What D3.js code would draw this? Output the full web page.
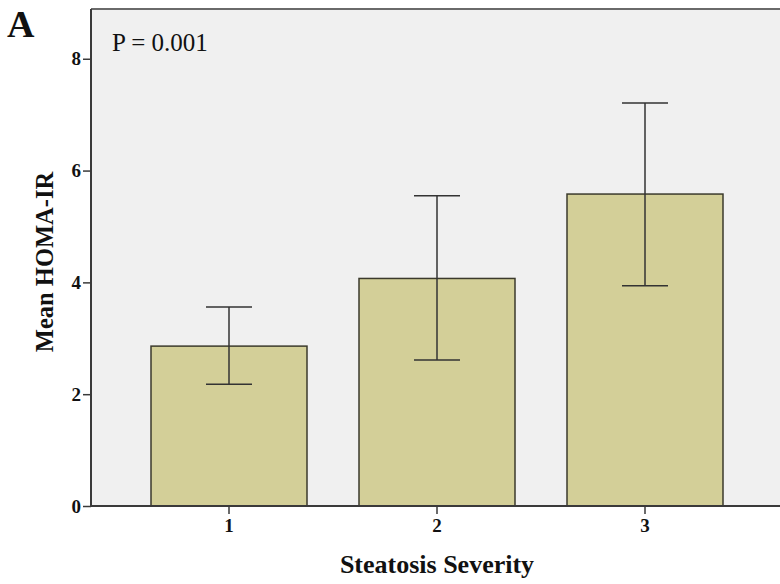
<!DOCTYPE html>
<html>
<head>
<meta charset="utf-8">
<script src="https://cdn.jsdelivr.net/npm/d3@7"></script>
<style>
  body { margin: 0; background: #fff; }
  svg { display: block; font-family: "Liberation Serif", "Times New Roman", serif; }
</style>
</head>
<body>
<script>
// données
const categories = ["1", "2", "3"];
const means = [2.86, 4.07, 5.58];
const lowerCI = [2.18, 2.61, 3.94];
const upperCI = [3.56, 5.55, 7.21];
const yTicks = [0, 2, 4, 6, 8];

const W = 780, H = 584;
const plot = { left: 91, right: 780, top: 9, bottom: 506 };

const svg = d3.select("body").append("svg")
  .attr("width", W)
  .attr("height", H);

const x = d3.scaleBand()
  .domain(categories)
  .range([125, 749])
  .paddingInner(0.25)
  .paddingOuter(0.125);

const y = d3.scaleLinear()
  .domain([0, 8.89])
  .range([plot.bottom, plot.top]);

// fond du graphique
svg.append("rect")
  .attr("x", plot.left)
  .attr("y", plot.top)
  .attr("width", plot.right - plot.left)
  .attr("height", plot.bottom - plot.top)
  .attr("fill", "#f0f0f0");

// bordure du haut
svg.append("line")
  .attr("x1", plot.left).attr("x2", plot.right)
  .attr("y1", plot.top).attr("y2", plot.top)
  .attr("stroke", "#6a6a6a")
  .attr("stroke-width", 2);

// barres
const data = categories.map((c, i) => ({ cat: c, mean: means[i], lo: lowerCI[i], hi: upperCI[i] }));

svg.selectAll(".bar")
  .data(data)
  .enter()
  .append("rect")
  .attr("class", "bar")
  .attr("x", d => x(d.cat))
  .attr("y", d => y(d.mean))
  .attr("width", x.bandwidth())
  .attr("height", d => y(0) - y(d.mean))
  .attr("fill", "#d3cf98")
  .attr("stroke", "#3b3a2c")
  .attr("stroke-width", 1.5);

// barres d'erreur
const cap = 23;
const err = svg.selectAll(".err")
  .data(data)
  .enter()
  .append("g")
  .attr("class", "err")
  .attr("stroke", "#333")
  .attr("stroke-width", 1.5);

err.append("line")
  .attr("x1", d => x(d.cat) + x.bandwidth() / 2)
  .attr("x2", d => x(d.cat) + x.bandwidth() / 2)
  .attr("y1", d => y(d.lo))
  .attr("y2", d => y(d.hi));
err.append("line")
  .attr("x1", d => x(d.cat) + x.bandwidth() / 2 - cap)
  .attr("x2", d => x(d.cat) + x.bandwidth() / 2 + cap)
  .attr("y1", d => y(d.hi))
  .attr("y2", d => y(d.hi));
err.append("line")
  .attr("x1", d => x(d.cat) + x.bandwidth() / 2 - cap)
  .attr("x2", d => x(d.cat) + x.bandwidth() / 2 + cap)
  .attr("y1", d => y(d.lo))
  .attr("y2", d => y(d.lo));

// axes
const yAxis = svg.append("g")
  .attr("transform", "translate(" + plot.left + ",0)")
  .call(d3.axisLeft(y).tickValues(yTicks).tickSize(8).tickPadding(2).tickSizeOuter(0));
yAxis.select(".domain").attr("d", "M0," + plot.top + "V" + plot.bottom);

const xAxis = svg.append("g")
  .attr("transform", "translate(0," + plot.bottom + ")")
  .call(d3.axisBottom(x).tickSize(8).tickPadding(5).tickSizeOuter(0));
xAxis.select(".domain").attr("d", "M" + plot.left + ",0H" + plot.right);

svg.selectAll(".domain").attr("stroke", "#3a3a3a").attr("stroke-width", 2);
svg.selectAll(".tick line").attr("stroke", "#3a3a3a").attr("stroke-width", 1.5);
svg.selectAll(".tick text")
  .style("font-family", "Liberation Serif")
  .style("font-size", "19px")
  .style("font-weight", "bold")
  .attr("fill", "#111");

// titres
svg.append("text")
  .text("Steatosis Severity")
  .attr("x", 437)
  .attr("y", 573)
  .attr("text-anchor", "middle")
  .style("font-size", "26px")
  .style("font-weight", "bold")
  .attr("fill", "#111");

svg.append("text")
  .text("Mean HOMA-IR")
  .attr("transform", "translate(53,262) rotate(-90)")
  .attr("text-anchor", "middle")
  .style("font-size", "24.5px")
  .style("font-weight", "bold")
  .attr("fill", "#111");

svg.append("text")
  .text("A")
  .attr("x", 7)
  .attr("y", 37)
  .style("font-size", "38px")
  .style("font-weight", "bold")
  .attr("fill", "#111");

svg.append("text")
  .text("P = 0.001")
  .attr("x", 112)
  .attr("y", 51)
  .style("font-size", "25px")
  .attr("fill", "#111");
</script>
</body>
</html>
